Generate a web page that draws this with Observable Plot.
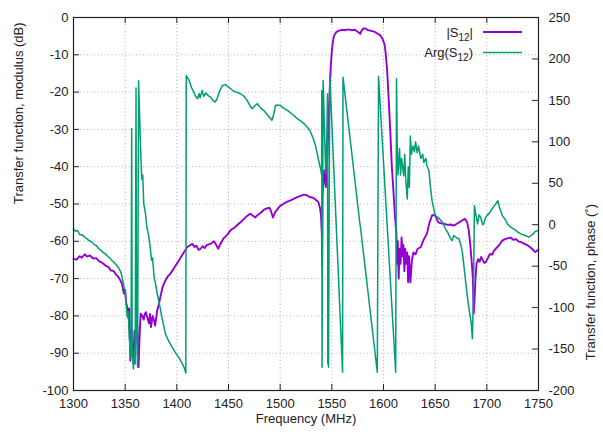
<!DOCTYPE html>
<html><head><meta charset="utf-8">
<script src="https://cdn.jsdelivr.net/npm/d3@7"></script>
<script src="https://cdn.jsdelivr.net/npm/@observablehq/plot@0.6"></script>
<style>
body{margin:0;background:#fff;}
#chart{width:603px;height:434px;}
</style></head><body><div id="chart"></div>
<script>
const freqTicks = [1300,1350,1400,1450,1500,1550,1600,1650,1700,1750];
const dbTicks = [0,-10,-20,-30,-40,-50,-60,-70,-80,-90,-100];
const phaseTicks = [250,200,150,100,50,0,-50,-100,-150,-200];
const seriesNames = [["|S","12","|"],["Arg(S","12",")"]];
const seriesColors = ["#9400d3","#009e73"];
const xLabel = "Frequency (MHz)";
const yLabel = "Transfer function, modulus (dB)";
const y2Label = "Transfer function, phase (˚)";

const magFreq = [1300,1303,1306,1308,1311,1313,1316,1319,1322,1325,1328,1331,1334,1336,1339,1341,1343,1345,1347,1348.7,1350,1351,1352,1353,1354,1355,1356,1357,1358,1359,1360,1361.6,1362.3,1363,1364,1365,1366.5,1368,1369,1370,1371.5,1373,1374,1375,1376.5,1377.7,1379,1381,1382.5,1384,1386,1387.4,1389,1391,1394,1397,1400,1403.5,1406.7,1410,1412,1415,1417,1419,1421,1423,1425,1427,1429,1431,1433,1436,1438,1440,1442,1445,1449,1452,1456,1459,1461.6,1465,1468,1471,1474,1476,1478,1481,1484,1487,1489.5,1491,1493,1495,1497,1500,1503,1506,1510,1513,1516,1519,1523,1526,1529,1532,1535,1537,1538.5,1539.5,1540.3,1540.6,1540.9,1542,1542.6,1543.5,1544.2,1545,1545.8,1546.6,1547.4,1548.2,1549,1550,1551,1552,1554,1557,1560,1563,1566,1569,1572,1574,1576,1577.5,1579,1581,1583,1585,1588,1591,1594,1597,1599,1601,1602,1603.5,1605,1606.5,1608,1609.5,1611,1612.5,1613.2,1613.8,1614.7,1615.5,1616.5,1617.5,1618.5,1619.3,1620.2,1621,1622,1623,1623.8,1624.7,1626,1627.5,1629,1631,1633,1636,1639,1642,1644.5,1647,1650,1653,1656,1659,1662,1665,1668,1671,1674,1676,1679,1681,1682.5,1684,1685.5,1686.5,1687.3,1688.2,1689,1690,1691.5,1693,1694.5,1696,1697.5,1699,1701,1703,1705,1707,1710,1712.5,1715,1717.5,1720,1723,1725.5,1728,1730.5,1733,1736,1739,1742,1744.5,1747,1750];
const magDb = [-64.7,-64.9,-64.0,-64.4,-63.5,-64.1,-63.8,-64.6,-64.5,-65.4,-65.8,-66.5,-66.9,-67.8,-68.0,-68.9,-69.4,-70.3,-71.5,-74,-73,-76.5,-77.7,-80.5,-78,-92,-84,-89,-92.5,-84,-87,-82,-88,-93.7,-85,-79.4,-80,-81,-79.5,-79,-80.5,-82,-79.5,-83,-80,-81,-82.6,-78.5,-77,-75,-72.5,-71.4,-70.5,-69.5,-68.6,-67.3,-66,-64.5,-63,-61.6,-61.2,-60.7,-61.5,-61.2,-62.3,-62,-61.3,-61.8,-61,-60.8,-60.6,-60,-60.9,-62,-60.8,-59.3,-58.2,-57,-56.3,-55.5,-54.9,-54,-53.2,-52.6,-53.2,-53.6,-53,-52.4,-51.6,-51.2,-51,-51.8,-53.6,-52.3,-51.5,-50.5,-50,-49.5,-49,-48.6,-48.2,-47.9,-47.5,-47.7,-48.2,-48.3,-49,-49.5,-51,-53,-58,-66.5,-48,-43,-41,-44,-45.5,-40,-36.5,-30,-23,-18,-13,-9,-6.5,-5,-4,-3.5,-3.3,-3.4,-3.2,-3.4,-3.3,-3.6,-4,-4.4,-3.4,-2.9,-3,-3.4,-3.6,-3.8,-4.3,-4.8,-5.7,-7.2,-9.3,-14,-21.8,-30,-39.7,-46,-53,-58,-66,-60,-70,-62,-66,-59,-64,-61,-68,-62,-66,-63,-71,-64,-71,-65,-63,-63.5,-62,-61.6,-59.5,-58,-55,-53,-53,-54.9,-55.2,-55.3,-55.6,-55.5,-55.8,-55.3,-54.8,-54.4,-54,-55,-57,-61,-66,-70,-79.4,-75,-70,-66,-64.8,-65.5,-64.2,-65,-65.8,-65.6,-64.5,-63.4,-63.6,-62.5,-61.6,-60.8,-59.8,-59.4,-59.2,-59,-59.6,-59.4,-60,-60.2,-60.6,-61,-61.6,-62.2,-62.9,-62.2];

const phaseFreq = [1300,1302,1304,1306,1308,1310,1312,1314,1316,1318,1320,1322,1324.5,1327,1329,1331,1333,1335,1337,1339,1341,1343,1345,1346.5,1348,1349.5,1351,1352,1353,1354,1355,1355.7,1356.3,1356.8,1358,1359,1359.7,1360.5,1361,1362,1363,1364,1365,1366,1367,1368,1369.5,1371,1373,1374.5,1375.5,1376.5,1378,1379.5,1381,1383,1385,1387,1389,1392,1395.5,1399,1402,1405,1407,1408.7,1409.1,1410,1412,1414,1416.5,1418,1420,1421.5,1422.5,1424.5,1426,1428,1430,1432.5,1435,1437,1439,1441,1444,1447,1450,1452,1455,1458,1461.6,1465,1468,1471,1473,1476,1478,1481,1484,1488,1492,1493.5,1495.5,1500,1503,1507,1512,1516.5,1520,1523,1526,1529,1532,1534,1536,1537.5,1539.5,1540.1,1540.3,1540.5,1541.6,1543,1544,1545,1545.8,1546.1,1546.5,1546.8,1548,1560.4,1560.8,1577,1577.8,1594,1595.2,1611.8,1612.6,1613.3,1614,1614.7,1615.5,1616.5,1617.5,1618.5,1619.6,1620.5,1621.5,1623,1624,1625,1626,1627,1628.5,1630,1631,1632.6,1634,1636,1638,1639,1641,1642,1644,1645.5,1647,1650,1653.5,1657,1660,1662,1665,1666.5,1668,1671,1673,1675,1676.5,1679,1681,1682.5,1684,1685,1686,1687,1688,1689,1690,1691,1692.5,1694,1696,1697,1698.5,1700,1702.5,1705,1708,1710.6,1712,1715,1718,1720,1723,1727,1730,1733,1737,1740.7,1743,1745,1747,1750];
const phaseDeg = [-5,-8,-7,-12,-12,-14,-16,-18,-20,-21,-24,-25,-29,-31,-34,-35,-38,-40,-43,-45,-48,-51,-55,-60,-70,-79,-95,-111,-105,-138,-150,-160,116,-155,-174,-150,-168,165,-130,-172,174,130,90,55,60,25,15,-3,-15,-30,-43,-40,-63,-72,-83,-95,-108,-120,-132,-140,-148,-155,-160,-167,-172,-179,180,178,174,166,160,155,152,158,153,162,155,159,156,154,150,148,152,160,168,169,166,164,161,160,158,155,150,143,140,144,146,141,138,132,126,132,144,144,141,138,133,128,125,122,118,113,104,96,85,76,65,60,162,-172,174,110,62,100,158,-168,-140,-172,180,-178,178,3,-4,-178,179,-178,176,90,60,75,92,60,80,70,59,85,55,31,70,45,107,85,95,88,100,87,95,80,85,75,80,71.5,65,45,29,11,8,3,-5,-9,-17,-19,-13,-16,-17,-25,-35,-63,-85,-99.5,-111.5,-120,-137.6,-90,23,15,8,1,12,9,0,1,8,11,14,19,24,29,22,11,6,1,-3,-6,-9,-11,-13,-15,-13,-11,-8,-7];

// map phase (right axis, -200..250) onto the modulus scale (-100..0)
const toDb = p => (p - 250) / 4.5;
const fromDb = d => Math.round(d * 4.5 + 250);

const magData = magFreq.map((f, i) => ({f, v: magDb[i]}));
const phaseData = phaseFreq.map((f, i) => ({f, v: toDb(phaseDeg[i])}));

const W = 603, H = 434, mL = 73, mR = 65, mT = 17, mB = 44;
const fw = W - mL - mR, fh = H - mT - mB, tk = 6;
const font = "'Liberation Sans', Arial, Helvetica, sans-serif";
const ink = "#222";
const gridStyle = {stroke: "#a0a0a0", strokeOpacity: 1, strokeWidth: 0.8, strokeDasharray: "1,2.5"};

const plot = Plot.plot({
  width: W, height: H,
  marginLeft: mL, marginRight: mR, marginTop: mT, marginBottom: mB,
  style: {fontFamily: font, fontSize: "13px", color: ink, background: "#fff", overflow: "visible"},
  x: {domain: [1300, 1750]},
  y: {domain: [-100, 0]},
  marks: [
    Plot.gridX(freqTicks, gridStyle),
    Plot.gridY(dbTicks, gridStyle),
    Plot.line(magData, {x: "f", y: "v", stroke: seriesColors[0], strokeWidth: 1.9}),
    Plot.line(phaseData, {x: "f", y: "v", stroke: seriesColors[1], strokeWidth: 1.5}),
    // inward ticks
    Plot.tickX(freqTicks, {x: d => d, insetTop: fh - tk, stroke: ink}),
    Plot.tickX(freqTicks, {x: d => d, insetBottom: fh - tk, stroke: ink}),
    Plot.tickY(dbTicks, {y: d => d, insetRight: fw - tk, stroke: ink}),
    Plot.tickY(phaseTicks.map(toDb), {y: d => d, insetLeft: fw - tk, stroke: ink}),
    Plot.frame({stroke: ink, strokeWidth: 1.2}),
    Plot.axisX(freqTicks, {anchor: "bottom", tickSize: 0, tickPadding: 8, tickFormat: d => String(d), label: null}),
    Plot.axisY(dbTicks, {anchor: "left", tickSize: 0, tickPadding: 5, tickFormat: d => String(d), label: null}),
    Plot.axisY(phaseTicks.map(toDb), {anchor: "right", tickSize: 0, tickPadding: 10, tickFormat: fromDb, label: null}),
    Plot.text([xLabel], {frameAnchor: "bottom", dy: 32, fill: ink}),
    Plot.text([yLabel], {frameAnchor: "left", rotate: -90, dx: -55, fill: ink}),
    Plot.text([y2Label], {frameAnchor: "right", rotate: -90, dx: 52, fill: ink})
  ]
});

// legend (inside the frame, top right)
const svg = d3.select(plot);
const leg = svg.append("g").attr("font-family", font).attr("font-size", 13).attr("fill", ink);
const right = W - mR;
seriesNames.forEach((parts, i) => {
  const y = 32 + i * 20.5;
  const t = leg.append("text").attr("x", right - 65).attr("y", y).attr("dy", "0.35em").attr("text-anchor", "end");
  t.append("tspan").text(parts[0]);
  t.append("tspan").attr("font-size", 10).attr("dy", 4).text(parts[1]);
  t.append("tspan").attr("dy", -4).text(parts[2]);
  leg.append("line").attr("x1", right - 55).attr("x2", right - 16).attr("y1", y).attr("y2", y)
    .attr("stroke", seriesColors[i]).attr("stroke-width", i === 0 ? 1.9 : 1.5);
});

document.getElementById("chart").appendChild(plot);
</script>
</body></html>
